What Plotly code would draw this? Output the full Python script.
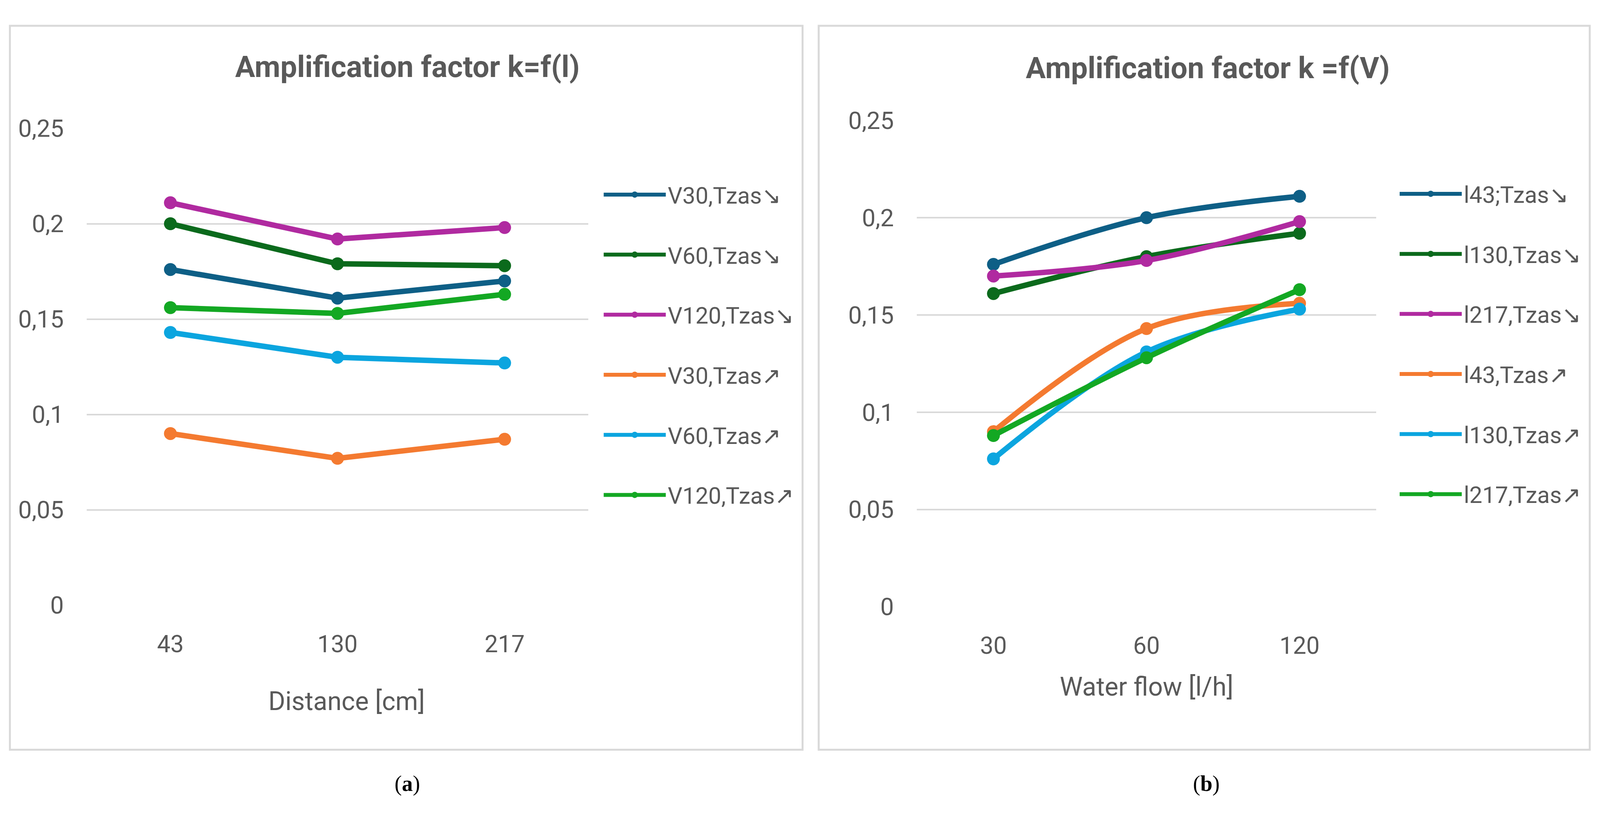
import plotly.graph_objects as go

# the screenshot viewport is 4096 px wide, the reference 4366 px:
# positions are kept as fractions of the reference, sizes are scaled down
REF_W, H = 4366, 2106
W = 4096
K = W / REF_W

# data
distance = ["43", "130", "217"]
flow = ["30", "60", "120"]

left_names = ["V30,Tzas↘", "V60,Tzas↘", "V120,Tzas↘", "V30,Tzas↗", "V60,Tzas↗", "V120,Tzas↗"]
v30_down = [0.176, 0.161, 0.170]
v60_down = [0.200, 0.179, 0.178]
v120_down = [0.211, 0.192, 0.198]
v30_up = [0.090, 0.077, 0.087]
v60_up = [0.143, 0.130, 0.127]
v120_up = [0.156, 0.153, 0.163]

right_names = ["l43;Tzas↘", "l130,Tzas↘", "l217,Tzas↘", "l43,Tzas↗", "l130,Tzas↗", "l217,Tzas↗"]
l43_down = [0.176, 0.200, 0.211]
l130_down = [0.161, 0.180, 0.192]
l217_down = [0.170, 0.178, 0.198]
l43_up = [0.090, 0.143, 0.156]
l130_up = [0.076, 0.131, 0.153]
l217_up = [0.088, 0.128, 0.163]

y_ticks = [0, 0.05, 0.1, 0.15, 0.2, 0.25]
y_labels = ["0", "0,05", "0,1", "0,15", "0,2", "0,25"]

colors = ["#0E5F86", "#0B6A1C", "#B02AA0", "#F47A30", "#0BA5DF", "#13A823"]
grey = "#595959"
grid = "#D9D9D9"
font = "Roboto"


def px_x(p):
    return p / REF_W


def px_y(p):
    return 1 - p / H


fig = go.Figure()

left_series = [v30_down, v60_down, v120_down, v30_up, v60_up, v120_up]
for i, (name, vals) in enumerate(zip(left_names, left_series)):
    fig.add_trace(go.Scatter(
        x=distance, y=vals, name=name, mode="lines+markers",
        line=dict(color=colors[i], width=14),
        marker=dict(color=colors[i], size=33),
        xaxis="x", yaxis="y", legend="legend", legendgroup="a%d" % i,
    ))

right_series = [l43_down, l130_down, l217_down, l43_up, l130_up, l217_up]
for i, (name, vals) in enumerate(zip(right_names, right_series)):
    fig.add_trace(go.Scatter(
        x=flow, y=vals, name=name, mode="lines+markers",
        line=dict(color=colors[i], width=14, shape="spline", smoothing=1),
        marker=dict(color=colors[i], size=33),
        xaxis="x2", yaxis="y2", legend="legend2", legendgroup="b%d" % i,
    ))

xcommon = dict(type="category", showgrid=False, zeroline=False, showline=False,
               ticks="", ticklabelstandoff=58,
               tickfont=dict(family=font, size=61, color=grey), fixedrange=True)
ycommon = dict(range=[0, 0.25], tickvals=y_ticks, ticktext=y_labels,
               showgrid=True, gridcolor=grid, gridwidth=4, zeroline=False,
               showline=False, ticks="", ticklabelstandoff=int(62 * K),
               tickfont=dict(family=font, size=62, color=grey))

legend_common = dict(font=dict(family=font, size=59, color=grey), itemwidth=int(170 * K),
                     tracegroupgap=74, bgcolor="rgba(0,0,0,0)",
                     xanchor="left", yanchor="top", traceorder="grouped")

fig.update_layout(
    width=W, height=H, margin=dict(l=0, r=0, t=0, b=0),
    paper_bgcolor="white", plot_bgcolor="white",
    xaxis=dict(xcommon, domain=[px_x(237), px_x(1605)], anchor="y", range=[-0.5, 2.5]),
    yaxis=dict(ycommon, domain=[px_y(1567), px_y(303)], anchor="x"),
    xaxis2=dict(xcommon, domain=[px_x(2502), px_x(3755)], anchor="y2", range=[-0.5, 2.5]),
    yaxis2=dict(ycommon, domain=[px_y(1571), px_y(282)], anchor="x2"),
    legend=dict(legend_common, x=px_x(1642), y=px_y(432)),
    legend2=dict(legend_common, x=px_x(3814), y=px_y(430)),
    showlegend=True,
)

# panel frames
for x0, x1 in [(27, 2190), (2234, 4338)]:
    fig.add_shape(type="rect", xref="paper", yref="paper",
                  x0=px_x(x0), x1=px_x(x1), y0=px_y(1950), y1=px_y(31),
                  line=dict(color=grid, width=5), layer="below")

texts = [
    ("Amplification factor k=f(l)", 1112, 140, 76, "bold"),
    ("Amplification factor k =f(V)", 3296, 143, 76, "bold"),
    ("Distance [cm]", 946, 1822, 66, "normal"),
    ("Water flow [l/h]", 3128, 1783, 66, "normal"),
]
for txt, x, y, size, weight in texts:
    fig.add_annotation(text=txt, xref="paper", yref="paper", x=px_x(x), y=px_y(y),
                       xanchor="center", yanchor="middle", showarrow=False,
                       font=dict(family=font, size=size, color=grey, weight=weight))

for txt, x in [("(<b>a</b>)", 1111), ("(<b>b</b>)", 3292)]:
    fig.add_annotation(text=txt, xref="paper", yref="paper", x=px_x(x), y=px_y(2040),
                       xanchor="center", yanchor="middle", showarrow=False,
                       font=dict(family="Liberation Serif", size=56, color="black"))

fig.write_html("out.html", config={"displayModeBar": False},
               post_script="document.body.style.margin='0px';")
